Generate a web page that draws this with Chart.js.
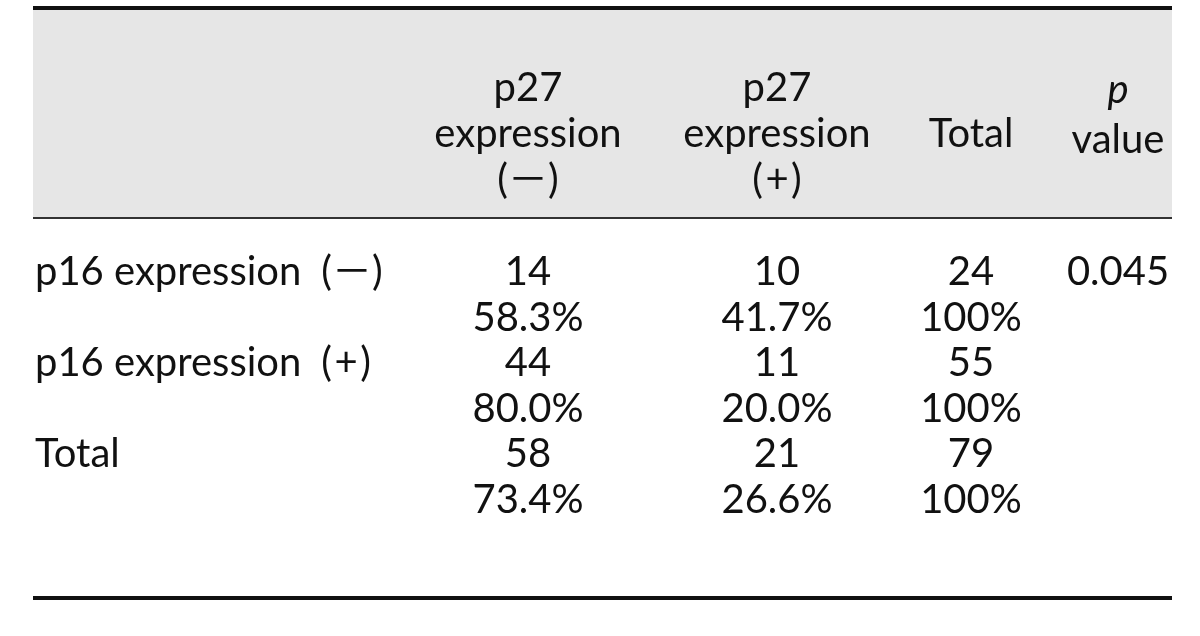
<!DOCTYPE html>
<html>
<head>
<meta charset="utf-8">
<script src="https://cdn.jsdelivr.net/npm/chart.js@4"></script>
<style>
  html, body { margin: 0; padding: 0; background: #fff; }
  #wrap { width: 1200px; height: 636px; }
</style>
</head>
<body>
<div id="wrap"><canvas id="table" width="1200" height="636"></canvas></div>
<script>
// header text, one array of lines per column
const headerNeg = ['p27', 'expression', '(－)'];
const headerPos = ['p27', 'expression', '(\u200a+\u200a)'];
const headerTotal = ['Total'];
const headerP = ['p', 'value'];

// body
const rowLabels = ['p16 expression\u2002(－)', 'p16 expression\u2002(\u200a+\u200a)', 'Total'];
const negCounts = [14, 44, 58];
const negPercents = ['58.3%', '80.0%', '73.4%'];
const posCounts = [10, 11, 21];
const posPercents = ['41.7%', '20.0%', '26.6%'];
const totalCounts = [24, 55, 79];
const totalPercents = ['100%', '100%', '100%'];
const pValues = ['0.045'];

// layout (scale units = canvas pixels, the axes span the whole canvas)
const FONT = "Lato, 'Noto Sans CJK JP', sans-serif";
const FONT_SIZE = 40;
const colX = [35, 528, 777, 971, 1118];
const headLineY = [88, 134, 180];
const pLineY = [90, 140];
const bodyTop = 272;
const lineH = 45.6;
const rules = { left: 33, right: 1172, top: 8, head: 218, bottom: 598 };

function lineY(i) { return bodyTop + i * lineH; }

// one dataset per column, each point carries its own text
function column(label, x, ys, texts, extra) {
    return Object.assign({
        label: label,
        data: ys.map(y => ({ x: x, y: y })),
        texts: texts.map(String),
        pointRadius: 0,
        align: 'center',
        italic: []
    }, extra || {});
}

const datasets = [
    column('headNeg', colX[1], headLineY, headerNeg),
    column('headPos', colX[2], headLineY, headerPos),
    column('headTotal', colX[3], [headLineY[1]], headerTotal),
    column('headP', colX[4], pLineY, headerP, { italic: [true, false] }),
    column('rows', colX[0], rowLabels.map((_, i) => lineY(i * 2)), rowLabels, { align: 'left' }),
    column('negCounts', colX[1], negCounts.map((_, i) => lineY(i * 2)), negCounts),
    column('negPct', colX[1], negPercents.map((_, i) => lineY(i * 2 + 1)), negPercents),
    column('posCounts', colX[2], posCounts.map((_, i) => lineY(i * 2)), posCounts),
    column('posPct', colX[2], posPercents.map((_, i) => lineY(i * 2 + 1)), posPercents),
    column('totalCounts', colX[3], totalCounts.map((_, i) => lineY(i * 2)), totalCounts),
    column('totalPct', colX[3], totalPercents.map((_, i) => lineY(i * 2 + 1)), totalPercents),
    column('pValues', colX[4], pValues.map((_, i) => lineY(i * 2)), pValues)
];

const tableFrame = {
    id: 'tableFrame',
    beforeDatasetsDraw(chart) {
        const { ctx, scales: { x, y } } = chart;
        const l = x.getPixelForValue(rules.left);
        const r = x.getPixelForValue(rules.right);
        ctx.save();
        // grey header band
        ctx.fillStyle = '#e6e6e6';
        const top = y.getPixelForValue(rules.top);
        const head = y.getPixelForValue(rules.head);
        ctx.fillRect(l, top, r - l, head - top);
        // rules
        ctx.fillStyle = '#111';
        ctx.fillRect(l, top - 2, r - l, 4);
        ctx.fillStyle = '#333';
        ctx.fillRect(l, head - 1, r - l, 2);
        ctx.fillStyle = '#111';
        ctx.fillRect(l, y.getPixelForValue(rules.bottom) - 2, r - l, 4);
        ctx.restore();
    },
    afterDatasetsDraw(chart) {
        const ctx = chart.ctx;
        ctx.save();
        ctx.fillStyle = '#111';
        ctx.textBaseline = 'middle';
        chart.data.datasets.forEach((ds, di) => {
            const meta = chart.getDatasetMeta(di);
            ctx.textAlign = ds.align;
            meta.data.forEach((pt, i) => {
                ctx.font = (ds.italic[i] ? 'italic ' : '') + FONT_SIZE + 'px ' + FONT;
                ctx.fillText(ds.texts[i], pt.x, pt.y);
            });
        });
        ctx.restore();
    }
};

new Chart(document.getElementById('table'), {
    type: 'scatter',
    data: { datasets: datasets },
    options: {
        responsive: false,
        animation: false,
        devicePixelRatio: 1,
        layout: { padding: 0 },
        plugins: { legend: { display: false }, tooltip: { enabled: false } },
        scales: {
            x: { type: 'linear', min: 0, max: 1200, display: false },
            y: { type: 'linear', min: 0, max: 636, reverse: true, display: false }
        }
    },
    plugins: [tableFrame]
});
</script>
</body>
</html>
